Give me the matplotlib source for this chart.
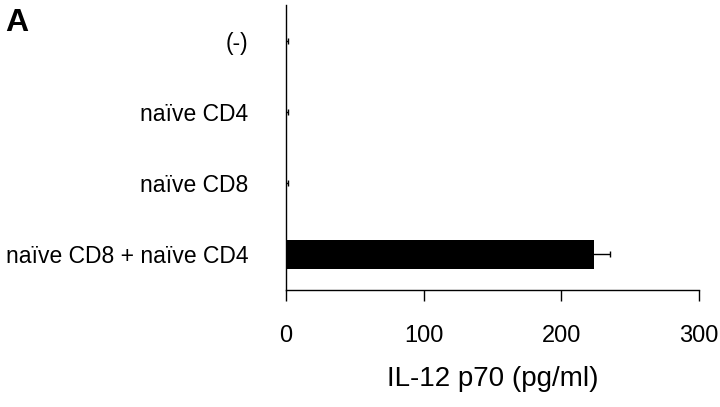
import matplotlib
matplotlib.use("Agg")
import numpy as np
from matplotlib import pyplot as plt

plt.rcParams['font.family'] = ['Liberation Sans', 'DejaVu Sans']

groups = ["naïve CD8 + naïve CD4", "naïve CD8", "naïve CD4", "(-)"]
il12 = [224, 0.5, 0.5, 0.5]
il12_err = [11, 1, 1, 1]
xticks = [0, 100, 200, 300]

fig = plt.figure(figsize=(7.2, 4.07), dpi=100)
ax = fig.add_axes([0.397, 0.2875, 0.574, 0.7005])

ypos = np.arange(len(groups))
ax.barh(ypos, il12, height=0.41, color="black",
        xerr=il12_err, error_kw=dict(ecolor="black", elinewidth=1, capsize=2.5, capthick=1))

ax.set_xlim(0, 300)
ax.set_ylim(-0.5, 3.5)
ax.set_xticks(xticks)
ax.set_yticks(ypos)
ax.set_yticklabels(groups, fontsize=16.5)
ax.tick_params(axis="y", length=0, pad=27)
ax.tick_params(axis="x", direction="out", length=8, width=1, labelsize=17, pad=17)
ax.set_xlabel("IL-12 p70 (pg/ml)", fontsize=20, labelpad=14)

for s in ["top", "right"]:
    ax.spines[s].set_visible(False)
for s in ["left", "bottom"]:
    ax.spines[s].set_linewidth(1)

fig.text(0.007, 0.925, "A", fontsize=23, fontweight="bold")

fig.savefig("out.png", dpi=100)
